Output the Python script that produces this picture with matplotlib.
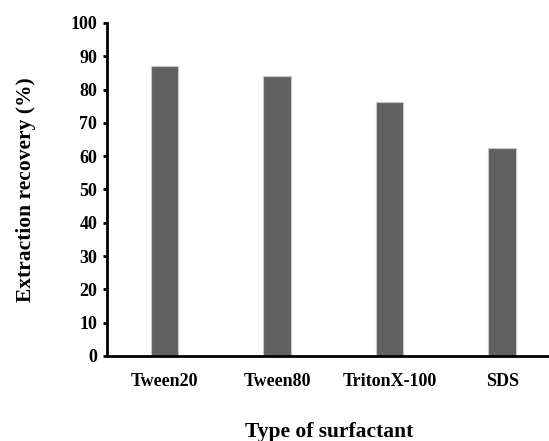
import numpy as np
import matplotlib.pyplot as plt

plt.rcParams['font.family'] = ['Liberation Serif', 'DejaVu Serif']
plt.rcParams['font.weight'] = 'bold'

#
# Data
#
surfactants = ["Tween20", "Tween80", "TritonX-100", "SDS"]
recovery = [87.2, 84.2, 76.3, 62.4]
y_ticks = list(range(0, 101, 10))

#
# Plot
#
fig = plt.figure(figsize=(5.49, 4.41), dpi=100)
ax = fig.add_axes([0.195, 0.193, 0.81, 0.755])

x = np.arange(len(surfactants))
ax.bar(x, recovery, width=0.245, color="#606060", edgecolor="#c8c8c8", linewidth=0.8)

ax.set_xlim(-0.51, 3.44)
ax.set_ylim(0, 100)
ax.set_yticks(y_ticks)
ax.set_xticks(x)
ax.set_xticklabels(surfactants, fontsize=13, fontweight="bold")
ax.tick_params(axis="y", labelsize=13, length=3, width=2, direction="out", pad=4)
ax.tick_params(axis="x", length=0, pad=12.5)
for lab in ax.get_yticklabels():
    lab.set_fontweight("bold")

for side in ["top", "right"]:
    ax.spines[side].set_visible(False)
ax.spines["left"].set_linewidth(2)
ax.spines["bottom"].set_linewidth(2)

ax.set_ylabel("Extraction recovery (%)", fontsize=15.5, fontweight="bold", labelpad=25)
ax.set_xlabel("Type of surfactant", fontsize=15.5, fontweight="bold", labelpad=23)

fig.savefig("out.png", dpi=100)
